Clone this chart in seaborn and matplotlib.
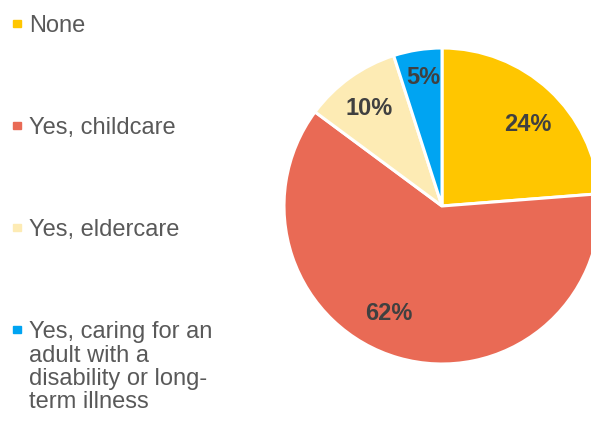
import matplotlib
matplotlib.use("Agg")
import matplotlib.pyplot as plt
import numpy as np
import seaborn as sns
from matplotlib.patches import Rectangle

# Survey answers: caring responsibilities
categories = [
    "None",
    "Yes, childcare",
    "Yes, eldercare",
    "Yes, caring for an\nadult with a\ndisability or long-\nterm illness",
]
shares = [24, 62, 10, 5]
colors = ["#FFC600", "#E96A55", "#FDEBB4", "#00A4F2"]

sns.set_theme(style="white")
plt.rcParams["font.family"] = ["Liberation Sans", "DejaVu Sans"]

W, H, DPI = 591, 421, 100
fig = plt.figure(figsize=(W / DPI, H / DPI), dpi=DPI)
fig.patch.set_facecolor("white")

# pie placed by pixel centre and radius
cx, cy, r = 442, 206, 158
ax = fig.add_axes([(cx - r) / W, (H - cy - r) / H, 2 * r / W, 2 * r / H])
wedges, _ = ax.pie(
    shares,
    colors=colors,
    startangle=90,
    counterclock=False,
    radius=1.0,
    wedgeprops=dict(edgecolor="white", linewidth=2.2),
)
ax.set_xlim(-1, 1)
ax.set_ylim(-1, 1)
ax.set_aspect("equal")
ax.axis("off")

# percentage labels near each wedge's mid-angle (radial distance, angle nudge)
label_dist = [0.75, 0.76, 0.77, 0.82]
angle_nudge = [-3.5, -10.0, 1.0, -0.5]
for w, v, d, da in zip(wedges, shares, label_dist, angle_nudge):
    theta = np.deg2rad((w.theta1 + w.theta2) / 2 + da)
    ax.text(d * np.cos(theta), d * np.sin(theta), f"{v}%",
            ha="center", va="center", fontsize=17, fontweight="bold",
            color="#404040")

# legend down the left side: square swatch beside the first text line
baselines = [32, 134, 236, 338]
line_pitch = 23.5
for lab, col, yb in zip(categories, colors, baselines):
    for i, ln in enumerate(lab.split("\n")):
        fig.text(29 / W, 1 - (yb + i * line_pitch) / H, ln, ha="left",
                 va="baseline", fontsize=17, color="#595959")
    fig.patches.append(Rectangle((13 / W, 1 - (yb - 5) / H), 7.5 / W, 7.5 / H,
                                 transform=fig.transFigure, color=col,
                                 figure=fig))

fig.savefig("out.png", dpi=DPI, facecolor="white")
